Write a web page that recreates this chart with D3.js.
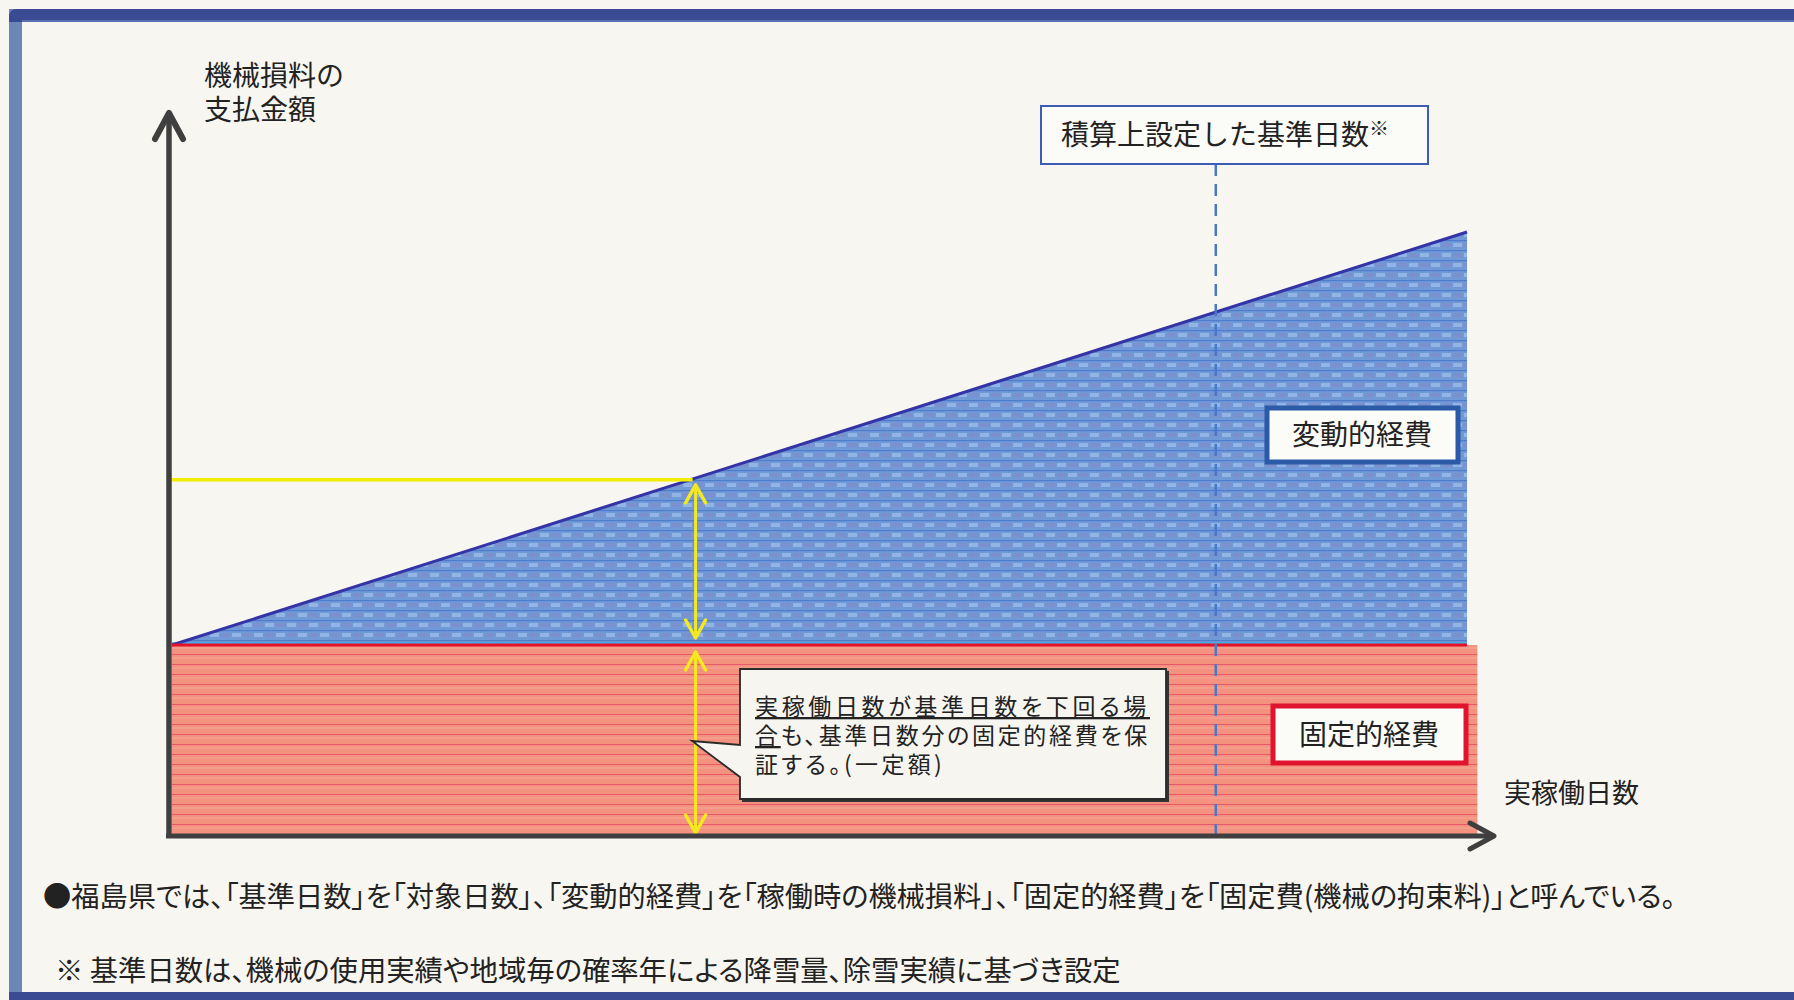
<!DOCTYPE html>
<html>
<head>
<meta charset="utf-8">
<script src="https://cdn.jsdelivr.net/npm/d3@7"></script>
<style>
  body { margin: 0; background: #f8f6f0; }
  svg { display: block; }
  text { font-family: "Noto Sans CJK JP", "Noto Sans", sans-serif; fill: #222; }
</style>
</head>
<body>
<svg id="chart" width="1794" height="1000"></svg>
<script>
// 値（概念図なので単位は任意）
const lineDays = [0, 100];          // 実稼働日数
const lineAmounts = [27, 86];       // 支払金額（固定+変動）
const fixedDays = [0, 100.8];
const fixedAmount = 27;             // 固定的経費
const standardDay = 80.6;           // 積算上設定した基準日数
const exampleDay = 40.2;
const exampleAmount = 50.6;

const yLabel = ["機械損料の", "支払金額"];
const xLabel = "実稼働日数";
const standardLabel = "積算上設定した基準日数";
const variableLabel = "変動的経費";
const fixedLabel = "固定的経費";
const calloutLines = ["実稼働日数が基準日数を下回る場", "合も、基準日数分の固定的経費を保", "証する。(一定額)"];
const calloutWidths = [395, 395, 190];
const note1 = "●福島県では、「基準日数」を「対象日数」、「変動的経費」を「稼働時の機械損料」、「固定的経費」を「固定費(機械の拘束料)」と呼んでいる。";
const note2 = "※ 基準日数は、機械の使用実績や地域毎の確率年による降雪量、除雪実績に基づき設定";

const svg = d3.select("#chart");
const x = d3.scaleLinear().domain([0, 100]).range([172, 1467]);
const y = d3.scaleLinear().domain([0, 100]).range([834, 134]);

// パターン
const defs = svg.append("defs");
const pb = defs.append("pattern").attr("id", "bluePat")
  .attr("patternUnits", "userSpaceOnUse").attr("width", 22).attr("height", 20);
pb.append("rect").attr("width", 22).attr("height", 20).attr("fill", "#7099d6");
pb.append("rect").attr("x", 1).attr("y", 3).attr("width", 9).attr("height", 4).attr("fill", "#92b5e6");
pb.append("rect").attr("x", 12).attr("y", 3).attr("width", 9).attr("height", 4).attr("fill", "#7b90cc");
pb.append("rect").attr("x", 12).attr("y", 13).attr("width", 9).attr("height", 4).attr("fill", "#92b5e6");
pb.append("rect").attr("x", 1).attr("y", 13).attr("width", 9).attr("height", 4).attr("fill", "#7b90cc");
pb.append("rect").attr("y", 0).attr("width", 22).attr("height", 1.2).attr("fill", "#4f7ccc");
pb.append("rect").attr("y", 10).attr("width", 22).attr("height", 1.2).attr("fill", "#4f7ccc");

const pr = defs.append("pattern").attr("id", "redPat")
  .attr("patternUnits", "userSpaceOnUse").attr("width", 30).attr("height", 10);
pr.append("rect").attr("width", 30).attr("height", 10).attr("fill", "#f3937f");
pr.append("rect").attr("y", 4).attr("width", 30).attr("height", 1).attr("fill", "#e8586a");
pr.append("rect").attr("y", 7).attr("width", 30).attr("height", 2).attr("fill", "#f59d8c");

// 枠
svg.append("rect").attr("x", 9).attr("y", 9).attr("width", 13).attr("height", 991).attr("fill", "#6d86b8");
svg.append("path").attr("d", "M9,22 L9,17 Q9,9 17,9 L1794,9 L1794,22 Z").attr("fill", "#3a4b94");
svg.append("rect").attr("x", 22).attr("y", 20).attr("width", 1772).attr("height", 2).attr("fill", "#5a6fb0");
svg.append("rect").attr("x", 9).attr("y", 992).attr("width", 1785).attr("height", 8).attr("fill", "#3a4b94");

// 固定的経費
svg.append("rect")
  .attr("x", x(fixedDays[0])).attr("y", y(fixedAmount))
  .attr("width", x(fixedDays[1]) - x(fixedDays[0]))
  .attr("height", y(0) - y(fixedAmount))
  .attr("fill", "url(#redPat)");

// 変動的経費
const pts = lineDays.map((d, i) => ({ day: d, amount: lineAmounts[i] }));
svg.append("path").datum(pts)
  .attr("d", d3.area().x(d => x(d.day)).y0(y(fixedAmount)).y1(d => y(d.amount)))
  .attr("fill", "url(#bluePat)");
svg.append("line")
  .attr("x1", x(0)).attr("x2", x(100)).attr("y1", y(fixedAmount) - 2).attr("y2", y(fixedAmount) - 2)
  .attr("stroke", "#3bb4e6").attr("stroke-width", 1.5);
svg.append("path").datum(pts)
  .attr("d", d3.line().x(d => x(d.day)).y(d => y(d.amount)))
  .attr("fill", "none").attr("stroke", "#3434a6").attr("stroke-width", 3);
svg.append("line")
  .attr("x1", x(0)).attr("x2", x(100)).attr("y1", y(fixedAmount)).attr("y2", y(fixedAmount))
  .attr("stroke", "#e3122c").attr("stroke-width", 3);

// 基準日数の破線
svg.append("line")
  .attr("x1", x(standardDay)).attr("x2", x(standardDay))
  .attr("y1", 164).attr("y2", y(0) + 2)
  .attr("stroke", "#4a78c8").attr("stroke-width", 2.5).attr("stroke-dasharray", "12,8");

// 黄色の線と矢印
svg.append("line")
  .attr("x1", x(0)).attr("x2", x(exampleDay)).attr("y1", y(exampleAmount)).attr("y2", y(exampleAmount))
  .attr("stroke", "#f4ec00").attr("stroke-width", 3.5);

function arrowHead(g, px, py, dir, color, w, h, sw) {
  g.append("path")
    .attr("d", `M${px - w},${py + dir * h} L${px},${py} L${px + w},${py + dir * h}`)
    .attr("fill", "none").attr("stroke", color).attr("stroke-width", sw)
    .attr("stroke-linecap", "round").attr("stroke-linejoin", "round");
}
const ax = x(exampleDay) + 3;
const yg = svg.append("g");
[[y(exampleAmount) + 5, y(fixedAmount) - 7], [y(fixedAmount) + 7, y(0) - 1]].forEach(([a, b]) => {
  yg.append("line").attr("x1", ax).attr("x2", ax).attr("y1", a).attr("y2", b)
    .attr("stroke", "#f4e81e").attr("stroke-width", 3);
  arrowHead(yg, ax, a, 1, "#f4e81e", 10, 18, 3.5);
  arrowHead(yg, ax, b, -1, "#f4e81e", 10, 18, 3.5);
});

// 軸
const axisColor = "#3f3f3f";
svg.append("line").attr("x1", 169).attr("x2", 169).attr("y1", y(0) + 4).attr("y2", 114)
  .attr("stroke", axisColor).attr("stroke-width", 5.5);
arrowHead(svg, 169, 113, 1, axisColor, 14, 26, 6);
svg.append("line").attr("x1", 166).attr("x2", 1492).attr("y1", y(0) + 2).attr("y2", y(0) + 2)
  .attr("stroke", axisColor).attr("stroke-width", 5);
svg.append("path")
  .attr("d", `M1470,${y(0) + 2 - 13} L1494,${y(0) + 2} L1470,${y(0) + 2 + 13}`)
  .attr("fill", "none").attr("stroke", axisColor).attr("stroke-width", 5)
  .attr("stroke-linecap", "round").attr("stroke-linejoin", "round");

// 軸ラベル
const yl = svg.append("text").attr("font-size", 28);
yLabel.forEach((t, i) => {
  yl.append("tspan").attr("x", 204).attr("y", 86 + i * 34).text(t);
});
svg.append("text").attr("x", 1504).attr("y", 803).attr("font-size", 27).text(xLabel);

// 基準日数ボックス
svg.append("rect").attr("x", 1041).attr("y", 106).attr("width", 387).attr("height", 58)
  .attr("fill", "#fbfbf8").attr("stroke", "#3d5cb4").attr("stroke-width", 2);
const st = svg.append("text").attr("x", 1061).attr("y", 145).attr("font-size", 28).text(standardLabel);
st.append("tspan").attr("font-size", 20).attr("dy", -9).text("※");

// 変動的経費ボックス
svg.append("rect").attr("x", 1267).attr("y", 408).attr("width", 191).attr("height", 54)
  .attr("fill", "#fbfbf8").attr("stroke", "#2a5aa8").attr("stroke-width", 5);
svg.append("text").attr("x", 1362).attr("y", 445).attr("text-anchor", "middle")
  .attr("font-size", 28).text(variableLabel);

// 固定的経費ボックス
svg.append("rect").attr("x", 1273).attr("y", 706).attr("width", 193).attr("height", 57)
  .attr("fill", "#fbfbf8").attr("stroke", "#e0142e").attr("stroke-width", 5);
svg.append("text").attr("x", 1369).attr("y", 745).attr("text-anchor", "middle")
  .attr("font-size", 28).text(fixedLabel);

// 吹き出し
svg.append("path")
  .attr("d", "M742,671 L1169,671 L1169,802 L742,802 Z")
  .attr("fill", "#333");
svg.append("path")
  .attr("d", "M740,669 L1166,669 L1166,799 L740,799 L740,777 L692,741 L740,745 Z")
  .attr("fill", "#f6f5f0").attr("stroke", "#2a2a2a").attr("stroke-width", 1.8)
  .attr("stroke-linejoin", "miter");
const cl = svg.append("text").attr("font-size", 23)
  .style("font-feature-settings", "'palt'");
calloutLines.forEach((t, i) => {
  const line = cl.append("tspan").attr("x", 755).attr("y", 715 + i * 29);
  let parts;
  if (i === 0) parts = [[t, true]];
  else if (i === 1) parts = [[t[0], true], [t.slice(1), false]];
  else parts = [[t, false]];
  const spans = parts.map(([s, u]) => {
    const sp = (u ? line.append("tspan").style("text-decoration", "underline") : line.append("tspan")).text(s);
    return sp;
  });
  // 行幅に合わせて字間を調整
  let len = 0;
  spans.forEach(sp => { len += sp.node().getComputedTextLength(); });
  const ls = (calloutWidths[i] - len) / t.length;
  spans.forEach(sp => sp.attr("letter-spacing", ls.toFixed(2)));
});

// 注記
function fitText(sel, w) {
  const len = sel.node().getComputedTextLength();
  const fs = +sel.attr("font-size");
  sel.attr("font-size", (fs * w / len).toFixed(2));
}
const n1 = svg.append("text").attr("x", 43).attr("y", 907).attr("font-size", 26)
  .style("font-feature-settings", "'palt'").text(note1);
fitText(n1, 1633);
const n2 = svg.append("text").attr("x", 55).attr("y", 981).attr("font-size", 26)
  .style("font-feature-settings", "'palt'").text(note2);
fitText(n2, 1066);
</script>
</body>
</html>
